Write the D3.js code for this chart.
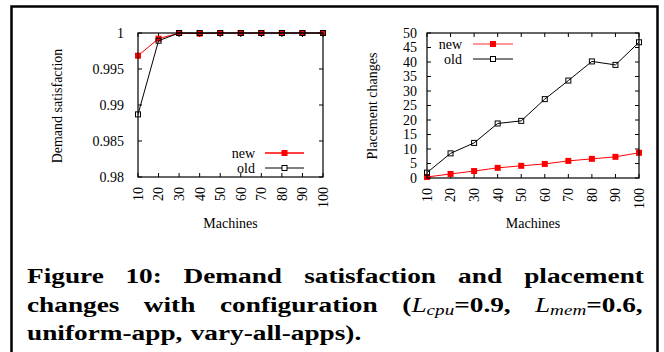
<!DOCTYPE html>
<html>
<head>
<meta charset="utf-8">
<script src="https://cdn.jsdelivr.net/npm/d3@7/dist/d3.min.js"></script>
<style>
  body { margin: 0; background: #fff; }
  svg { display: block; }
</style>
</head>
<body>
<svg id="fig" width="664" height="352"></svg>
<script>
// data
const machines = [10, 20, 30, 40, 50, 60, 70, 80, 90, 100];
const satNew = [0.99685, 0.99921, 1, 0.99992, 1, 1, 1, 1, 1, 1];
const satOld = [0.9887, 0.99893, 1, 1, 1, 1, 1, 1, 1, 1];
const changesNew = [0.35, 1.4, 2.4, 3.5, 4.2, 4.85, 5.9, 6.6, 7.3, 8.7];
const changesOld = [1.85, 8.5, 12.1, 18.8, 19.7, 27.2, 33.6, 40.2, 39.0, 46.8];
const satTicks = [0.98, 0.985, 0.99, 0.995, 1];
const satTickLabels = ["0.98", "0.985", "0.99", "0.995", "1"];
const changeTicks = [0, 5, 10, 15, 20, 25, 30, 35, 40, 45, 50];

const serif = "'Liberation Serif', 'Times New Roman', serif";
const svg = d3.select("#fig");

// outer box
svg.append("rect")
  .attr("x", 11.5).attr("y", 6.5)
  .attr("width", 646).attr("height", 360)
  .attr("fill", "none").attr("stroke", "#000").attr("stroke-width", 2.5);

function drawPanel(opt) {
  const x = d3.scaleLinear().domain([10, 100]).range([opt.x0, opt.x1]);
  const y = d3.scaleLinear().domain(opt.ydom).range([opt.y1, opt.y0]);
  const g = svg.append("g");

  // inner ticks on all four sides
  const tl = 4;
  machines.forEach(m => {
    g.append("line").attr("x1", x(m)).attr("x2", x(m)).attr("y1", opt.y1).attr("y2", opt.y1 - tl).attr("stroke", "#000");
    g.append("line").attr("x1", x(m)).attr("x2", x(m)).attr("y1", opt.y0).attr("y2", opt.y0 + tl).attr("stroke", "#000");
    g.append("text")
      .attr("transform", `translate(${x(m)},${opt.y1 + 10}) rotate(-90)`)
      .attr("text-anchor", "end").attr("dy", "0.35em")
      .attr("font-family", serif).attr("font-size", 14)
      .text(m);
  });
  opt.yticks.forEach((t, i) => {
    g.append("line").attr("x1", opt.x0).attr("x2", opt.x0 + tl).attr("y1", y(t)).attr("y2", y(t)).attr("stroke", "#000");
    g.append("line").attr("x1", opt.x1).attr("x2", opt.x1 - tl).attr("y1", y(t)).attr("y2", y(t)).attr("stroke", "#000");
    g.append("text")
      .attr("x", opt.x0 - opt.labelGap).attr("y", y(t)).attr("dy", "0.35em")
      .attr("text-anchor", "end")
      .attr("font-family", serif).attr("font-size", 14)
      .text(opt.ylabels[i]);
  });

  const line = d3.line().x((d, i) => x(machines[i])).y(d => y(d));

  // new first, old drawn on top
  g.append("path").datum(opt.newData).attr("d", line)
    .attr("fill", "none").attr("stroke", "#ff0000").attr("stroke-width", 1);
  g.selectAll(".pn").data(opt.newData).enter().append("rect")
    .attr("x", (d, i) => x(machines[i]) - 3).attr("y", d => y(d) - 3)
    .attr("width", 6).attr("height", 6).attr("fill", "#ff0000");

  g.append("path").datum(opt.oldData).attr("d", line)
    .attr("fill", "none").attr("stroke", "#000").attr("stroke-width", 1);
  g.selectAll(".po").data(opt.oldData).enter().append("rect")
    .attr("x", (d, i) => x(machines[i]) - 2.5).attr("y", d => y(d) - 2.5)
    .attr("width", 5).attr("height", 5).attr("fill", "none").attr("stroke", "#000").attr("stroke-width", 1);

  // frame
  g.append("rect")
    .attr("x", opt.x0).attr("y", opt.y0)
    .attr("width", opt.x1 - opt.x0).attr("height", opt.y1 - opt.y0)
    .attr("fill", "none").attr("stroke", "#000").attr("stroke-width", 1.2);

  // axis titles
  g.append("text")
    .attr("x", (opt.x0 + opt.x1) / 2).attr("y", 228)
    .attr("text-anchor", "middle")
    .attr("font-family", serif).attr("font-size", 14)
    .text("Machines");
  g.append("text")
    .attr("transform", `translate(${opt.ytitleX},106) rotate(-90)`)
    .attr("text-anchor", "middle")
    .attr("font-family", serif).attr("font-size", 14)
    .text(opt.ytitle);

  // legend
  const L = opt.legend;
  [["new", "#ff0000", true, L.y], ["old", "#000", false, L.y + 15]].forEach(([name, col, filled, ly]) => {
    g.append("text").attr("x", L.textEnd).attr("y", ly).attr("dy", "0.35em")
      .attr("text-anchor", "end").attr("font-family", serif).attr("font-size", 14)
      .text(name);
    g.append("line").attr("x1", L.l0).attr("x2", L.l1).attr("y1", ly).attr("y2", ly)
      .attr("stroke", filled ? L.newLine : "#000").attr("stroke-width", filled ? 1.4 : 1);
    const mx = (L.l0 + L.l1) / 2;
    if (filled) {
      g.append("rect").attr("x", mx - 3).attr("y", ly - 3).attr("width", 6).attr("height", 6).attr("fill", col);
    } else {
      g.append("rect").attr("x", mx - 2.5).attr("y", ly - 2.5).attr("width", 5).attr("height", 5)
        .attr("fill", "#fff").attr("stroke", "#000");
    }
  });
}

drawPanel({
  x0: 138, x1: 323, y0: 33, y1: 177,
  ydom: [0.98, 1], yticks: satTicks, ylabels: satTickLabels, labelGap: 14,
  newData: satNew, oldData: satOld,
  ytitle: "Demand satisfaction", ytitleX: 62,
  legend: { y: 153, textEnd: 255, l0: 265, l1: 304, newLine: "#ff0000" }
});

drawPanel({
  x0: 427, x1: 639, y0: 33, y1: 178,
  ydom: [0, 50], yticks: changeTicks, ylabels: changeTicks.map(String), labelGap: 10,
  newData: changesNew, oldData: changesOld,
  ytitle: "Placement changes", ytitleX: 377,
  legend: { y: 44, textEnd: 462, l0: 473, l1: 513, newLine: "#ff7373" }
});

// caption, justified like the paper
const capFont = "'Liberation Serif', serif";
const capLeft = 27, capRight = 644;
const capSize = 21;
const capLines = [
  { y: 283, justify: true, words: [[["Figure", ""]], [["10:", ""]], [["Demand", ""]], [["satisfaction", ""]], [["and", ""]], [["placement", ""]]] },
  { y: 312, justify: true, words: [[["changes", ""]], [["with", ""]], [["configuration", ""]],
      [["(", ""], ["L", "it"], ["cpu", "sub"], ["=0.9,", ""]], [["L", "it"], ["mem", "sub"], ["=0.6,", ""]]] },
  { y: 340, justify: false, words: [[["uniform-app,", ""]], [["vary-all-apps).", ""]]] }
];

function makeWord(parts) {
  const t = svg.append("text").attr("x", 0).attr("y", 0)
    .attr("font-family", capFont).attr("font-size", capSize).attr("font-weight", "bold");
  parts.forEach(([s, kind]) => {
    const sp = t.append("tspan").text(s);
    if (kind === "it") sp.attr("font-style", "italic").attr("font-weight", "normal");
    if (kind === "sub") sp.attr("font-style", "italic").attr("font-weight", "normal").attr("font-size", capSize * 0.7).attr("dy", 3);
    if (kind === "" && s.startsWith("=")) sp.attr("dy", -3);
  });
  return t;
}

// stretch the glyphs sideways (like the extended bold face) so the last line has the paper's width
let sx = 1;
{
  const probe = makeWord([["uniform-app, vary-all-apps).", ""]]);
  sx = 333 / probe.node().getBBox().width;
  probe.remove();
}

capLines.forEach(line => {
  const nodes = line.words.map(parts => makeWord(parts));
  const widths = nodes.map(n => n.node().getBBox().width * sx);
  const total = d3.sum(widths);
  const gap = line.justify ? (capRight - capLeft - total) / (nodes.length - 1) : capSize * 0.3 * sx;
  let cx = capLeft;
  nodes.forEach((n, i) => {
    n.attr("transform", `translate(${cx},${line.y}) scale(${sx},1)`);
    cx += widths[i] + gap;
  });
});
</script>
</body>
</html>
